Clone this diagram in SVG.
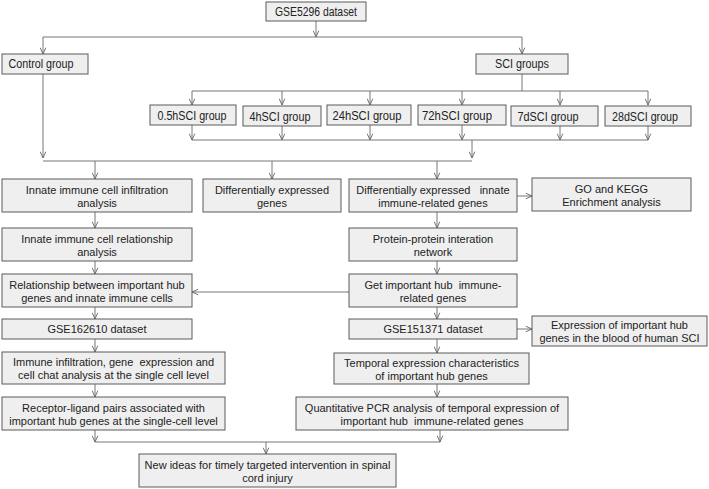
<svg xmlns="http://www.w3.org/2000/svg" width="709" height="489" viewBox="0 0 709 489">
<defs>
<style>
.b{fill:#efefef;stroke:#5a5a5a;stroke-width:1}
.t{font-family:"Liberation Sans",Arial,sans-serif;font-size:11px;fill:#222;text-anchor:middle;white-space:pre}
.h{font-size:12px}
.c{fill:none;stroke:#777;stroke-width:1}
</style>
<marker id="a" viewBox="0 0 10 10" refX="10" refY="5" markerWidth="7" markerHeight="7" markerUnits="userSpaceOnUse" orient="auto">
<path d="M1,1 L10,5 L1,9" fill="none" stroke="#666" stroke-width="1.3"/>
</marker>
</defs>
<rect width="709" height="489" fill="#fff"/>
<g id="connectors" class="c">
<path d="M316,21V37" marker-end="url(#a)"/>
<path d="M43,37H522"/>
<path d="M43,37V54" marker-end="url(#a)"/>
<path d="M522,37V54" marker-end="url(#a)"/>
<path d="M522,74V91M192,91H648"/>
<path d="M192,91V105" marker-end="url(#a)"/>
<path d="M282,91V105" marker-end="url(#a)"/>
<path d="M370,91V105" marker-end="url(#a)"/>
<path d="M462,91V105" marker-end="url(#a)"/>
<path d="M560,91V105" marker-end="url(#a)"/>
<path d="M648,91V105" marker-end="url(#a)"/>
<path d="M192,125V140" marker-end="url(#a)"/>
<path d="M282,126V140" marker-end="url(#a)"/>
<path d="M370,125V140" marker-end="url(#a)"/>
<path d="M462,125V140" marker-end="url(#a)"/>
<path d="M560,126V140" marker-end="url(#a)"/>
<path d="M648,126V140" marker-end="url(#a)"/>
<path d="M192,140H648"/>
<path d="M472,140V158" marker-end="url(#a)"/>
<path d="M43,74V158" marker-end="url(#a)"/>
<path d="M43,161H472"/>
<path d="M95,161V179" marker-end="url(#a)"/>
<path d="M272,161V179" marker-end="url(#a)"/>
<path d="M437,161V179" marker-end="url(#a)"/>
<path d="M517,196H532" marker-end="url(#a)"/>
<path d="M95,212V228" marker-end="url(#a)"/>
<path d="M95,261V274" marker-end="url(#a)"/>
<path d="M95,307V319" marker-end="url(#a)"/>
<path d="M95,339V352" marker-end="url(#a)"/>
<path d="M95,384V397" marker-end="url(#a)"/>
<path d="M437,212V228" marker-end="url(#a)"/>
<path d="M437,261V274" marker-end="url(#a)"/>
<path d="M437,307V319" marker-end="url(#a)"/>
<path d="M437,339V353" marker-end="url(#a)"/>
<path d="M437,384V397" marker-end="url(#a)"/>
<path d="M349,292H192" marker-end="url(#a)"/>
<path d="M517,329H532" marker-end="url(#a)"/>
<path d="M95,430V442" marker-end="url(#a)"/>
<path d="M440,430V442" marker-end="url(#a)"/>
<path d="M95,442H440"/>
<path d="M266,442V454" marker-end="url(#a)"/>
</g>
<g id="gse5296"><rect class="b" x="266" y="2" width="100" height="19"/><text class="t h" x="316" y="16" textLength="82" lengthAdjust="spacingAndGlyphs">GSE5296 dataset</text></g>
<g id="control"><rect class="b" x="2" y="54" width="86" height="20"/><text class="t h" x="41" y="68" textLength="65" lengthAdjust="spacingAndGlyphs">Control group</text></g>
<g id="sci"><rect class="b" x="476" y="54" width="92" height="20"/><text class="t h" x="522" y="68" textLength="54" lengthAdjust="spacingAndGlyphs">SCI groups</text></g>
<g id="g05h"><rect class="b" x="150" y="105" width="86" height="20"/><text class="t h" x="192" y="120" textLength="69" lengthAdjust="spacingAndGlyphs">0.5hSCI group</text></g>
<g id="g4h"><rect class="b" x="243" y="106" width="78" height="20"/><text class="t h" x="280" y="121" textLength="61" lengthAdjust="spacingAndGlyphs">4hSCI group</text></g>
<g id="g24h"><rect class="b" x="327" y="105" width="84" height="20"/><text class="t h" x="367" y="120" textLength="69" lengthAdjust="spacingAndGlyphs">24hSCI group</text></g>
<g id="g72h"><rect class="b" x="418" y="105" width="88" height="20"/><text class="t h" x="457" y="120" textLength="70" lengthAdjust="spacingAndGlyphs">72hSCI group</text></g>
<g id="g7d"><rect class="b" x="511" y="106" width="87" height="20"/><text class="t h" x="548" y="121" textLength="61" lengthAdjust="spacingAndGlyphs">7dSCI group</text></g>
<g id="g28d"><rect class="b" x="605" y="106" width="86" height="20"/><text class="t h" x="645" y="121" textLength="66" lengthAdjust="spacingAndGlyphs">28dSCI group</text></g>
<g id="infiltration"><rect class="b" x="2" y="179" width="190" height="33"/><text class="t" x="97" y="193.5">Innate immune cell infiltration</text><text class="t" x="97" y="206.5">analysis</text></g>
<g id="deg"><rect class="b" x="203" y="179" width="138" height="33"/><text class="t" x="272" y="193.5">Differentially expressed</text><text class="t" x="272" y="206.5">genes</text></g>
<g id="deirg"><rect class="b" x="349" y="179" width="168" height="33"/><text class="t" x="433" y="193.5">Differentially expressed   innate</text><text class="t" x="433" y="206.5">immune-related genes</text></g>
<g id="gokegg"><rect class="b" x="532" y="178" width="159" height="33"/><text class="t" x="611.5" y="192.5">GO and KEGG</text><text class="t" x="611.5" y="205.5">Enrichment analysis</text></g>
<g id="relationship"><rect class="b" x="2" y="228" width="190" height="33"/><text class="t" x="97" y="242.5">Innate immune cell relationship</text><text class="t" x="97" y="255.5">analysis</text></g>
<g id="ppi"><rect class="b" x="349" y="228" width="168" height="33"/><text class="t" x="433" y="242.5">Protein-protein interation</text><text class="t" x="433" y="255.5">network</text></g>
<g id="hubrel"><rect class="b" x="2" y="274" width="190" height="33"/><text class="t" x="97" y="288.5">Relationship between important hub</text><text class="t" x="97" y="301.5">genes and innate immune cells</text></g>
<g id="hub"><rect class="b" x="349" y="274" width="168" height="33"/><text class="t" x="433" y="288.5">Get important hub  immune-</text><text class="t" x="433" y="301.5">related genes</text></g>
<g id="gse162610"><rect class="b" x="2" y="319" width="190" height="20"/><text class="t" x="97" y="333">GSE162610 dataset</text></g>
<g id="gse151371"><rect class="b" x="349" y="319" width="168" height="20"/><text class="t" x="433" y="333">GSE151371 dataset</text></g>
<g id="blood"><rect class="b" x="532" y="316" width="175" height="30"/><text class="t" x="619.5" y="329">Expression of important hub</text><text class="t" x="619.5" y="342">genes in the blood of human SCI</text></g>
<g id="singlecell"><rect class="b" x="2" y="352" width="223" height="32"/><text class="t" x="113.5" y="366">Immune infiltration, gene  expression and</text><text class="t" x="113.5" y="379">cell chat analysis at the single cell level</text></g>
<g id="temporal"><rect class="b" x="334" y="353" width="195" height="31"/><text class="t" x="431.5" y="366.5">Temporal expression characteristics</text><text class="t" x="431.5" y="379.5">of important hub genes</text></g>
<g id="receptor"><rect class="b" x="2" y="397" width="223" height="33"/><text class="t" x="113.5" y="411.5">Receptor-ligand pairs associated with</text><text class="t" x="113.5" y="424.5">important hub genes at the single-cell level</text></g>
<g id="qpcr"><rect class="b" x="296" y="397" width="272" height="33"/><text class="t" x="432" y="411.5">Quantitative PCR analysis of temporal expression of</text><text class="t" x="432" y="424.5">important hub  immune-related genes</text></g>
<g id="newideas"><rect class="b" x="139" y="454" width="257" height="33"/><text class="t" x="267.5" y="468.5">New ideas for timely targeted intervention in spinal</text><text class="t" x="267.5" y="481.5">cord injury</text></g>
</svg>
